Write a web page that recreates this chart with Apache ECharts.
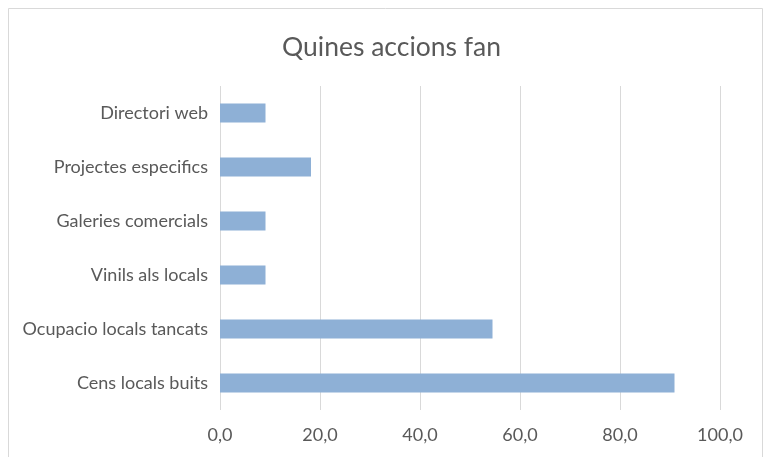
<!DOCTYPE html>
<html>
<head>
<meta charset="utf-8">
<style>
  html, body { margin: 0; padding: 0; background: #ffffff; }
  #chart { width: 767px; height: 457px; }
</style>
<script src="https://cdn.jsdelivr.net/npm/echarts@6/dist/echarts.min.js"></script>
</head>
<body>
<div id="chart"></div>
<script>
// Actions carried out (percentage of responses)
const categories = [
  'Cens locals buits',
  'Ocupacio locals tancats',
  'Vinils als locals',
  'Galeries comercials',
  'Projectes especifics',
  'Directori web'
];
const values = [90.9, 54.5, 9.1, 9.1, 18.2, 9.1];
const axisTicks = [0, 20, 40, 60, 80, 100];

const chart = echarts.init(document.getElementById('chart'), null, { renderer: 'canvas' });

const font = 'Lato, "Open Sans", sans-serif';

chart.setOption({
  animation: false,
  backgroundColor: '#ffffff',
  title: {
    text: 'Quines accions fan',
    left: 277,
    top: 29,
    textStyle: { fontFamily: font, fontSize: 26.5, fontWeight: 'normal', color: '#595959' }
  },
  graphic: [{
    type: 'rect',
    shape: { x: 8.5, y: 8.5, width: 754, height: 460 },
    style: { fill: 'none', stroke: '#d9d9d9', lineWidth: 1 },
    silent: true
  }],
  grid: { left: 220, right: 47, top: 86, bottom: 47, containLabel: false },
  xAxis: {
    type: 'value',
    min: axisTicks[0],
    max: axisTicks[axisTicks.length - 1],
    interval: axisTicks[1] - axisTicks[0],
    axisLine: { show: false },
    axisTick: { show: false },
    splitLine: { show: true, lineStyle: { color: '#d9d9d9', width: 1 } },
    axisLabel: {
      margin: 16,
      fontFamily: font,
      fontSize: 18,
      color: '#595959',
      formatter: v => v.toFixed(1).replace('.', ',')
    }
  },
  yAxis: {
    type: 'category',
    data: categories,
    axisLine: { show: false },
    axisTick: { show: false },
    axisLabel: { margin: 12, fontFamily: font, fontSize: 18, color: '#595959' }
  },
  series: [{
    type: 'bar',
    data: values,
    barWidth: 19,
    itemStyle: { color: '#8eb0d6' }
  }]
});
</script>
</body>
</html>
